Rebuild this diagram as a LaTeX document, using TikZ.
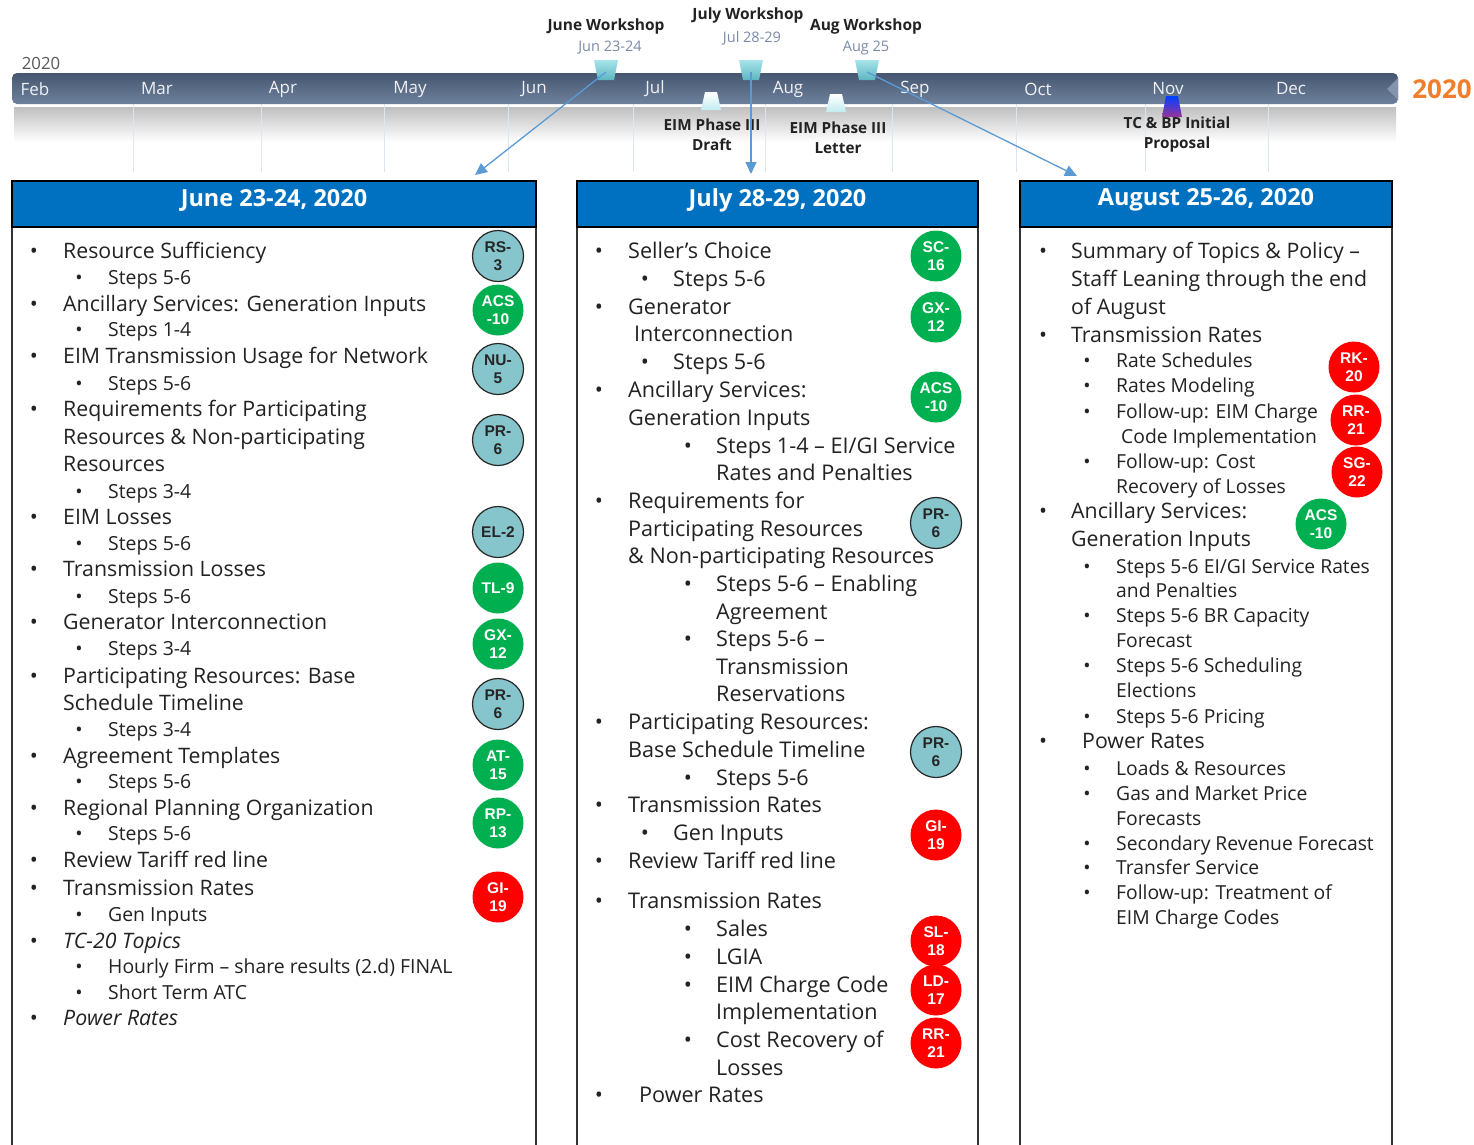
\documentclass[tikz,border=0pt]{standalone}
\usepackage{fontspec}
\setmainfont{Open Sans}
\newfontfamily\bdg{Liberation Sans}
\usetikzlibrary{arrows.meta}
\definecolor{hdrblue}{HTML}{0070C0}
\definecolor{tealc}{HTML}{86C5CB}
\definecolor{grnc}{HTML}{00B050}
\definecolor{redc}{HTML}{FF0000}
\definecolor{tlTop}{HTML}{465670}
\definecolor{tlBot}{HTML}{6E819C}
\definecolor{wsA}{HTML}{A8E4EA}
\definecolor{wsB}{HTML}{5CB6C2}
\definecolor{arr}{HTML}{5B9BD5}
\definecolor{grid}{HTML}{DCE6F2}
\definecolor{datec}{HTML}{7A8AA8}
\definecolor{orng}{HTML}{F07F2D}
\definecolor{txtc}{HTML}{222222}
\newcounter{nc}
\tikzset{
  txt/.style={anchor=mid west, inner sep=0pt, text=txtc, yshift=-5pt},
  bul/.style={anchor=mid, inner sep=0pt, text=txtc, yshift=-5pt},
  badge/.style={circle, minimum size=51pt, inner sep=0pt, align=center,
     font=\bdg\bfseries\fontsize{15.5}{18.5}\selectfont},
  tealb/.style={badge, fill=tealc, draw=black!85, line width=1.2pt, text=black!85},
  grnb/.style={badge, fill=grnc, text=white},
  redb/.style={badge, fill=redc, text=white},
  hdr/.style={draw=black, line width=1.5pt, fill=hdrblue, inner sep=0pt, minimum height=46pt},
  hdrtxt/.style={inner sep=0pt, text=white, font=\bfseries\fontsize{23.5}{23.5}\selectfont},
  colline/.style={draw=black!80, line width=2pt},
  month/.style={inner sep=0pt, text=white!92!tlTop, font=\fontsize{17}{17}\selectfont},
  wslab/.style={inner sep=0pt, text=txtc, font=\bfseries\fontsize{15.5}{15.5}\selectfont},
  datelab/.style={inner sep=0pt, text=datec, font=\fontsize{14.5}{14.5}\selectfont},
  evlab/.style={inner sep=0pt, text=txtc, align=center, font=\bfseries\fontsize{15.3}{20}\selectfont},
  conn/.style={draw=arr, line width=1.3pt, -{Triangle[length=12pt,width=11pt]}},
}
\newcommand\Bul[5]{\stepcounter{nc}%
  \node[bul,font=\fontsize{#4}{#4}\selectfont] (b\arabic{nc}) at (#1,#3) {•};
  \node[txt,font=\fontsize{#4}{#4}\selectfont] (t\arabic{nc}) at (#2,#3) {#5};}
\newcommand\Cont[4]{\stepcounter{nc}%
  \node[txt,font=\fontsize{#3}{#3}\selectfont] (t\arabic{nc}) at (#1,#2) {#4};}
\newcommand\WsMark[3]{\shade[top color=wsA, bottom color=wsB] (#2-12,#3) -- (#2+12,#3) -- (#2+8,#3+20) -- (#2-8,#3+20) -- cycle;
  \coordinate (#1) at (#2,#3+12);}
\newcommand\EvMark[3]{\shade[top color=white, bottom color=#3] (#1-6,#2) -- (#1+6,#2) -- (#1+10,#2+18) -- (#1-10,#2+18) -- cycle;}
% sizes
\def\Aa{21.3}\def\Ab{19.4}\def\Ba{21.6}\def\Ca{21.3}\def\Cb{19.3}
\begin{document}
\begin{tikzpicture}[x=1pt,y=-1pt]
\useasboundingbox (0,0) rectangle (1474,1144);
\fill[white] (0,0) rectangle (1474,1144);
% ---------- timeline ----------
\shade[top color=black!25, bottom color=white] (14,107) rectangle (1396,142);
\foreach \gx in {133,261,384,508,633,765,892,1016,1145,1268}
  \draw[grid, line width=0.8pt] (\gx,104) -- (\gx,172);
\shade[top color=tlTop, bottom color=tlBot, rounded corners=5pt] (12,73) rectangle (1398,104);
\fill[tlBot!85!white] (1398,78) -- (1387,89) -- (1398,100) -- cycle;
\node[month] (mFeb) at (35,89) {Feb};
\node[month] (mMar) at (157,89) {Mar};
\node[month] (mApr) at (283,89) {Apr};
\node[month] (mMay) at (410,89) {May};
\node[month] (mJun) at (534,89) {Jun};
\node[month] (mJul) at (655,89) {Jul};
\node[month] (mAug) at (788,89) {Aug};
\node[month] (mSep) at (915,89) {Sep};
\node[month] (mOct) at (1038,89) {Oct};
\node[month] (mNov) at (1168,89) {Nov};
\node[month] (mDec) at (1291,89) {Dec};
\node[inner sep=0pt, text=black!65, font=\fontsize{16.8}{16.8}\selectfont] (yrL) at (41,63) {2020};
\node[inner sep=0pt, text=orng, font=\bfseries\fontsize{26}{26}\selectfont] (yrR) at (1442,89) {2020};
% workshop markers
\WsMark{wJun}{606}{60}
\WsMark{wJul}{751}{60}
\WsMark{wAug}{867}{60}
\node[wslab] (lJun) at (606,26) {June Workshop};
\node[datelab] (dJun) at (610,48) {Jun 23-24};
\node[wslab] (lJul) at (748,15) {July Workshop};
\node[datelab] (dJul) at (752,38) {Jul 28-29};
\node[wslab] (lAug) at (866,26) {Aug Workshop};
\node[datelab] (dAug) at (866,48) {Aug 25};
% event markers
\EvMark{711}{92}{wsA!70}
\EvMark{836}{94}{wsA!70}
\shade[top color=blue!75!cyan, bottom color=violet!80] (1166,96) -- (1178,96) -- (1182,117) -- (1162,117) -- cycle;
\node[evlab] (eDraft) at (712,135) {EIM Phase III\\Draft};
\node[evlab] (eLetter) at (838,138) {EIM Phase III\\Letter};
\node[evlab] (eTC) at (1177,135) {TC \& BP Initial\\Proposal};
% ---------- columns ----------
\draw[colline] (12,227) -- (12,1150);
\draw[colline] (536,227) -- (536,1150);
\draw[colline] (577,227) -- (577,1150);
\draw[colline] (978,227) -- (978,1150);
\draw[colline] (1020,227) -- (1020,1150);
\draw[colline] (1392,227) -- (1392,1150);
\node[hdr, minimum width=524pt] (h1) at (274,204) {};
\node[hdr, minimum width=401pt] (h2) at (777.5,204) {};
\node[hdr, minimum width=372pt] (h3) at (1206,204) {};
\node[hdrtxt] (h1t) at (h1.center) [yshift=4pt] {June 23-24, 2020};
\node[hdrtxt] (h2t) at (h2.center) [yshift=4pt] {July 28-29, 2020};
\node[hdrtxt] (h3t) at (h3.center) [yshift=4pt] {August 25-26, 2020};
% connectors
\coordinate (e1) at (475,175);
\coordinate (e2) at (751,174);
\coordinate (e3) at (1077,176);
\draw[conn] (wJun) -- (e1);
\draw[conn] (wJul) -- (e2);
\draw[conn] (wAug) -- (e3);
% ---------- column 1 ----------
\Bul{34}{63}{251}{\Aa}{Resource Sufficiency}
\Bul{79}{108}{277}{\Ab}{Steps 5-6}
\Bul{34}{63}{304}{\Aa}{Ancillary Services: Generation Inputs}
\Bul{79}{108}{329}{\Ab}{Steps 1-4}
\Bul{34}{63}{356}{\Aa}{EIM Transmission Usage for Network}
\Bul{79}{108}{383}{\Ab}{Steps 5-6}
\Bul{34}{63}{409}{\Aa}{Requirements for Participating}
\Cont{63}{437}{\Aa}{Resources \& Non-participating}
\Cont{63}{464}{\Aa}{Resources}
\Bul{79}{108}{491}{\Ab}{Steps 3-4}
\Bul{34}{63}{517}{\Aa}{EIM Losses}
\Bul{79}{108}{543}{\Ab}{Steps 5-6}
\Bul{34}{63}{569}{\Aa}{Transmission Losses}
\Bul{79}{108}{596}{\Ab}{Steps 5-6}
\Bul{34}{63}{622}{\Aa}{Generator Interconnection}
\Bul{79}{108}{648}{\Ab}{Steps 3-4}
\Bul{34}{63}{676}{\Aa}{Participating Resources: Base}
\Cont{63}{703}{\Aa}{Schedule Timeline}
\Bul{79}{108}{729}{\Ab}{Steps 3-4}
\Bul{34}{63}{756}{\Aa}{Agreement Templates}
\Bul{79}{108}{781}{\Ab}{Steps 5-6}
\Bul{34}{63}{808}{\Aa}{Regional Planning Organization}
\Bul{79}{108}{833}{\Ab}{Steps 5-6}
\Bul{34}{63}{860}{\Aa}{Review Tariff red line}
\Bul{34}{63}{888}{\Aa}{Transmission Rates}
\Bul{79}{108}{914}{\Ab}{Gen Inputs}
\Bul{34}{63}{941}{\Aa}{\itshape TC-20 Topics}
\Bul{79}{108}{966}{\Ab}{Hourly Firm – share results (2.d) FINAL}
\Bul{79}{108}{992}{\Ab}{Short Term ATC}
\Bul{34}{63}{1018}{\Aa}{\itshape Power Rates}
\node[tealb] (c1a) at (498,256) {RS-\\3};
\node[grnb]  (c1b) at (498,310) {ACS\\-10};
\node[tealb] (c1c) at (498,369) {NU-\\5};
\node[tealb] (c1d) at (498,440) {PR-\\6};
\node[tealb] (c1e) at (498,532) {EL-2};
\node[grnb]  (c1f) at (498,588) {TL-9};
\node[grnb]  (c1g) at (498,644) {GX-\\12};
\node[tealb] (c1h) at (498,704) {PR-\\6};
\node[grnb]  (c1i) at (498,765) {AT-\\15};
\node[grnb]  (c1j) at (498,823) {RP-\\13};
\node[redb]  (c1k) at (498,897) {GI-\\19};
% ---------- column 2 ----------
\Bul{599}{628}{251}{\Ba}{Seller’s Choice}
\Bul{645}{673}{279}{\Ba}{Steps 5-6}
\Bul{599}{628}{307}{\Ba}{Generator}
\Cont{634}{334}{\Ba}{Interconnection}
\Bul{645}{673}{362}{\Ba}{Steps 5-6}
\Bul{599}{628}{390}{\Ba}{Ancillary Services:}
\Cont{628}{418}{\Ba}{Generation Inputs}
\Bul{688}{716}{446}{\Ba}{Steps 1-4 – EI/GI Service}
\Cont{716}{473}{\Ba}{Rates and Penalties}
\Bul{599}{628}{501}{\Ba}{Requirements for}
\Cont{628}{529}{\Ba}{Participating Resources}
\Cont{628}{556}{\Ba}{\& Non-participating Resources}
\Bul{688}{716}{584}{\Ba}{Steps 5-6 – Enabling}
\Cont{716}{612}{\Ba}{Agreement}
\Bul{688}{716}{639}{\Ba}{Steps 5-6 –}
\Cont{716}{667}{\Ba}{Transmission}
\Cont{716}{694}{\Ba}{Reservations}
\Bul{599}{628}{722}{\Ba}{Participating Resources:}
\Cont{628}{750}{\Ba}{Base Schedule Timeline}
\Bul{688}{716}{778}{\Ba}{Steps 5-6}
\Bul{599}{628}{805}{\Ba}{Transmission Rates}
\Bul{645}{673}{833}{\Ba}{Gen Inputs}
\Bul{599}{628}{861}{\Ba}{Review Tariff red line}
\Bul{599}{628}{901}{\Ba}{Transmission Rates}
\Bul{688}{716}{929}{\Ba}{Sales}
\Bul{688}{716}{957}{\Ba}{LGIA}
\Bul{688}{716}{985}{\Ba}{EIM Charge Code}
\Cont{716}{1012}{\Ba}{Implementation}
\Bul{688}{716}{1040}{\Ba}{Cost Recovery of}
\Cont{716}{1068}{\Ba}{Losses}
\Bul{599}{639}{1095}{\Ba}{Power Rates}
\node[grnb]  (c2a) at (936,256) {SC-\\16};
\node[grnb]  (c2b) at (936,317) {GX-\\12};
\node[grnb]  (c2c) at (936,397) {ACS\\-10};
\node[tealb] (c2d) at (936,523) {PR-\\6};
\node[tealb] (c2e) at (936,752) {PR-\\6};
\node[redb]  (c2f) at (936,835) {GI-\\19};
\node[redb]  (c2g) at (936,941) {SL-\\18};
\node[redb]  (c2h) at (936,990) {LD-\\17};
\node[redb]  (c2i) at (936,1043) {RR-\\21};
% ---------- column 3 ----------
\Bul{1043}{1071}{251}{\Ca}{Summary of Topics \& Policy –}
\Cont{1071}{279}{\Ca}{Staff Leaning through the end}
\Cont{1071}{307}{\Ca}{of August}
\Bul{1043}{1071}{335}{\Ca}{Transmission Rates}
\Bul{1087}{1116}{360}{\Cb}{Rate Schedules}
\Bul{1087}{1116}{385}{\Cb}{Rates Modeling}
\Bul{1087}{1116}{411}{\Cb}{Follow-up: EIM Charge}
\Cont{1121}{436}{\Cb}{Code Implementation}
\Bul{1087}{1116}{461}{\Cb}{Follow-up: Cost}
\Cont{1116}{486}{\Cb}{Recovery of Losses}
\Bul{1043}{1071}{511}{\Ca}{Ancillary Services:}
\Cont{1071}{539}{\Ca}{Generation Inputs}
\Bul{1087}{1116}{566}{\Cb}{Steps 5-6 EI/GI Service Rates}
\Cont{1116}{590}{\Cb}{and Penalties}
\Bul{1087}{1116}{615}{\Cb}{Steps 5-6 BR Capacity}
\Cont{1116}{640}{\Cb}{Forecast}
\Bul{1087}{1116}{665}{\Cb}{Steps 5-6 Scheduling}
\Cont{1116}{690}{\Cb}{Elections}
\Bul{1087}{1116}{716}{\Cb}{Steps 5-6 Pricing}
\Bul{1043}{1082}{741}{\Ca}{Power Rates}
\Bul{1087}{1116}{768}{\Cb}{Loads \& Resources}
\Bul{1087}{1116}{793}{\Cb}{Gas and Market Price}
\Cont{1116}{818}{\Cb}{Forecasts}
\Bul{1087}{1116}{843}{\Cb}{Secondary Revenue Forecast}
\Bul{1087}{1116}{867}{\Cb}{Transfer Service}
\Bul{1087}{1116}{892}{\Cb}{Follow-up: Treatment of}
\Cont{1116}{917}{\Cb}{EIM Charge Codes}
\node[redb]  (c3a) at (1354,367) {RK-\\20};
\node[redb]  (c3b) at (1356,420) {RR-\\21};
\node[redb]  (c3c) at (1357,472) {SG-\\22};
\node[grnb]  (c3d) at (1321,524) {ACS\\-10};
\end{tikzpicture}
\end{document}
